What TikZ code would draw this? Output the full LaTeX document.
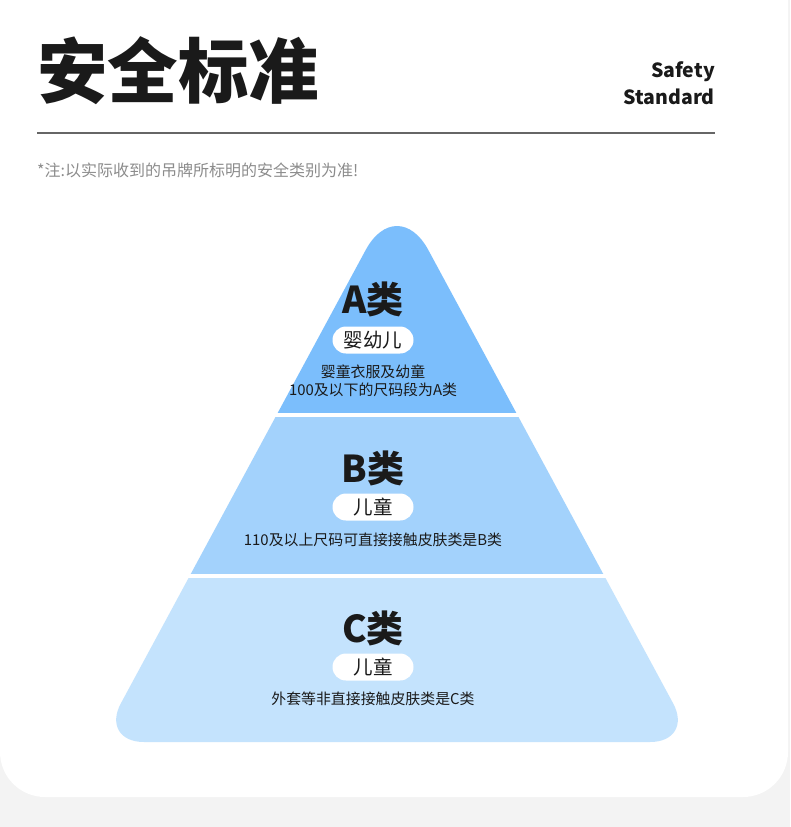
\documentclass[tikz,border=0pt]{standalone}
\usepackage{fontspec}
\setmainfont{Noto Sans CJK SC}
\definecolor{pageGray}{HTML}{F3F3F3}
\definecolor{inkBlack}{HTML}{1A1A1A}
\definecolor{noteGray}{HTML}{8C8C8C}
\definecolor{ruleGray}{HTML}{666666}
\definecolor{tierA}{HTML}{7BBEFC}
\definecolor{tierB}{HTML}{A3D2FC}
\definecolor{tierC}{HTML}{C4E3FD}

\begin{document}
\begin{tikzpicture}[x=1pt, y=-1pt,
    classlab/.style={anchor=base, inner sep=0, text=inkBlack,
                     font=\fontsize{37}{37}\selectfont\bfseries},
    agepill/.style={fill=white, rounded corners=13.5pt, inner sep=0,
                    minimum width=81pt, minimum height=27pt, text=inkBlack,
                    font=\fontsize{19.5}{19.5}\selectfont},
    detail/.style={inner sep=0, align=center, text=inkBlack,
                   font=\fontsize{14.9}{18}\selectfont}]
    \useasboundingbox (0,0) rectangle (790,827);

    % --- page and card; the card's top corners lie outside the box ---
    \fill[pageGray] (0,0) rectangle (790,827);
    \fill[white, rounded corners=45pt] (0,-60) rectangle (788,797);

    % --- header ---
    \node[anchor=base west, inner sep=0, text=inkBlack,
          font=\fontsize{70.5}{70.5}\selectfont\bfseries] (title) at (37,97) {安全标准};
    \node[anchor=base east, inner sep=0, text=inkBlack,
          font=\fontsize{19.5}{19.5}\selectfont\bfseries] (safety) at (715,77) {Safety};
    \node[anchor=base east, inner sep=0, text=inkBlack,
          font=\fontsize{19.5}{19.5}\selectfont\bfseries] (standard) at (715,104) {Standard};
    \coordinate (ruleL) at (37,133);
    \coordinate (ruleR) at (715,133);
    \draw[ruleGray, line width=1.3pt] (ruleL) -- (ruleR);
    \node[anchor=west, inner sep=0, text=noteGray,
          font=\fontsize{16}{16}\selectfont] (remark) at (37,170)
      {*注:以实际收到的吊牌所标明的安全类别为准!};

    % --- pyramid: one rounded triangle, cut into three bands ---
    \foreach \col/\top/\bot/\rc in {tierA/150/412.5/66, tierB/417/573/44, tierC/578/760/44} {
      \begin{scope}
        \clip (0,\top) rectangle (790,\bot);
        \fill[\col, rounded corners=\rc pt]
          (397,742) -- (694,742) -- (397,192) -- (100,742) -- cycle;
      \end{scope}
    }

    % --- class letter, age pill, one line of detail per band ---
    \foreach \id/\base/\pill/\age in {A/313/340/婴幼儿, B/482/507/儿童, C/642/667/儿童} {
      \node[classlab] (class\id) at (373,\base) {\id 类};
      \node[agepill] (pill\id) at (373,\pill) {\age};
    }
    \node[detail] (detailA) at (373,381) {婴童衣服及幼童\\100及以下的尺码段为A类};
    \node[detail] (detailB) at (373,540) {110及以上尺码可直接接触皮肤类是B类};
    \node[detail] (detailC) at (373,699) {外套等非直接接触皮肤类是C类};
\end{tikzpicture}
\end{document}
